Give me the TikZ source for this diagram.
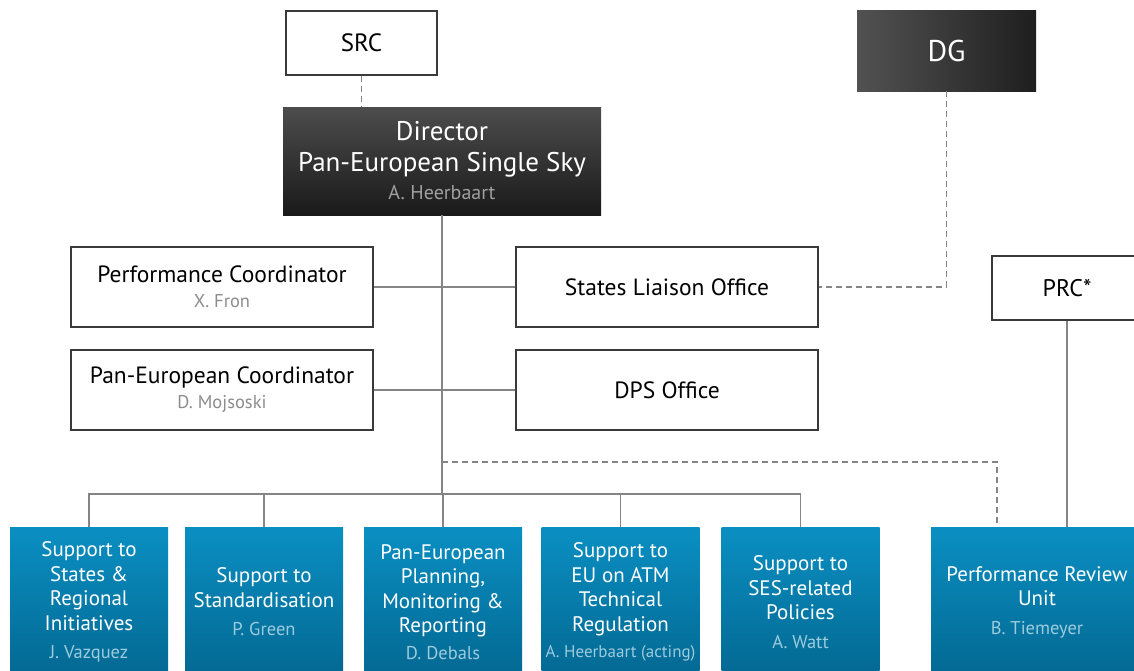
\documentclass[tikz,border=0pt]{standalone}
\usepackage{fontspec}
\setmainfont{PT Sans}
\definecolor{linegray}{HTML}{858585}
\definecolor{boxline}{HTML}{3A3A3A}
\definecolor{namegray}{HTML}{8C8C8C}
\definecolor{dirname}{HTML}{A0A0A0}
\definecolor{bluetop}{HTML}{0A8FC2}
\definecolor{bluebot}{HTML}{036892}
\definecolor{bluename}{HTML}{9CCBDD}
\tikzset{
  whitebox/.style={draw=boxline, line width=1.2pt, fill=white, align=center, inner sep=0pt,
    font=\fontsize{23.5}{26}\selectfont},
  bluebox/.style={top color=bluetop, bottom color=bluebot, text=white, align=center,
    minimum width=158pt, minimum height=150pt, inner sep=0pt, font=\fontsize{21}{24.5}\selectfont},
  conn/.style={linegray, line width=1.3pt},
  dashconn/.style={conn, dash pattern=on 6pt off 4pt},
}
\newcommand{\pname}[2]{{\color{#1}\fontsize{18.5}{20}\selectfont #2}}
\begin{document}
\begin{tikzpicture}[x=1pt, y=-1pt]
    \useasboundingbox (0,0) rectangle (1134,670);

    % Top row
    \node[whitebox, minimum width=151pt, minimum height=64pt, font=\fontsize{25}{30}\selectfont] (src) at (361.5,43) {SRC};
    \node[top color=black!70, bottom color=black!90, text=white, align=center, inner sep=0pt,
          minimum width=318pt, minimum height=108pt, font=\fontsize{27}{31}\selectfont] (dir) at (442,161)
          {Director\\Pan-European Single Sky\\[-3pt]{\color{dirname}\fontsize{20}{22}\selectfont A. Heerbaart}};
    \node[left color=black!68, right color=black!88, text=white, inner sep=0pt,
          minimum width=179pt, minimum height=81pt, font=\fontsize{30}{34}\selectfont] (dg) at (946.5,50.5) {DG};

    % Staff boxes
    \node[whitebox, minimum width=302pt, minimum height=80pt] (pc) at (222,287)
          {Performance Coordinator\\[-1pt]\pname{namegray}{X. Fron}};
    \node[whitebox, minimum width=302pt, minimum height=80pt] (slo) at (667,287) {States Liaison Office};
    \node[whitebox, minimum width=302pt, minimum height=80pt] (pec) at (222,390)
          {Pan-European Coordinator\\[-1pt]\pname{namegray}{D. Mojsoski}};
    \node[whitebox, minimum width=302pt, minimum height=80pt] (dps) at (667,390) {DPS Office};
    \node[whitebox, minimum width=150pt, minimum height=64pt, font=\fontsize{24}{28}\selectfont] (prc) at (1067,288) {PRC*};

    % Units
    \node[bluebox] (b1) at (89,602) {Support to\\States \&\\Regional\\Initiatives\\[4pt]\pname{bluename}{J. Vazquez}};
    \node[bluebox] (b2) at (264,602) {Support to\\Standardisation\\[4pt]\pname{bluename}{P. Green}};
    \node[bluebox] (b3) at (443,602) {Pan-European\\Planning,\\Monitoring \&\\Reporting\\[2pt]\pname{bluename}{D. Debals}};
    \node[bluebox] (b4) at (620.5,602) {Support to\\EU on ATM\\Technical\\Regulation\\[2pt]{\color{bluename}\fontsize{17}{20}\selectfont A. Heerbaart (acting)}};
    \node[bluebox] (b5) at (800.5,602) {Support to\\SES-related\\Policies\\[4pt]\pname{bluename}{A. Watt}};
    \node[bluebox, minimum width=212pt] (pru) at (1037,602) {Performance Review\\Unit\\[4pt]\pname{bluename}{B. Tiemeyer}};

    % Lines
    \coordinate (split) at (442,462);
    \coordinate (bus) at (442,494);
    \draw[dashconn] (src.south) -- (src.south |- dir.north);
    \draw[dashconn] (dg.south) |- (slo.east);
    \draw[conn] (dir.south) -- (bus);
    \draw[conn] (pc.east) -- (slo.west);
    \draw[conn] (pec.east) -- (dps.west);
    \foreach \b in {b1,b2,b3,b4,b5}
        \draw[conn] (bus) -| (\b.north);
    \draw[dashconn] (split) -| ([xshift=-40pt]pru.north);
    \draw[conn] (prc.south) -- (prc.south |- pru.north);
\end{tikzpicture}
\end{document}
